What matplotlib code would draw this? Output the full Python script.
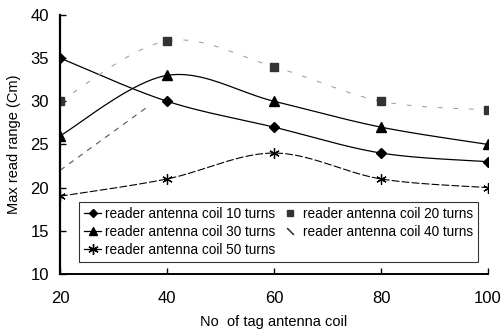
import numpy as np
import matplotlib
matplotlib.use("Agg")
import matplotlib.pyplot as plt
from matplotlib.lines import Line2D

plt.rcParams['font.family'] = ['Liberation Sans', 'DejaVu Sans']

x_turns = [20, 40, 60, 80, 100]
coil10 = [35, 30, 27, 24, 23]
coil20 = [30, 37, 34, 30, 29]
coil30 = [26, 33, 30, 27, 25]
coil50 = [19, 21, 24, 21, 20]
coil40_x = [20, 36]
coil40 = [22, 29.2]

labels = ["reader antenna coil 10 turns", "reader antenna coil 20 turns",
          "reader antenna coil 30 turns", "reader antenna coil 40 turns",
          "reader antenna coil 50 turns"]


def smooth(xs, ys, n=40):
    xs = np.asarray(xs, float); ys = np.asarray(ys, float)
    P = np.column_stack([xs, ys])
    P = np.vstack([P[0], P, P[-1]])
    out = []
    for i in range(1, len(P) - 2):
        p0, p1, p2, p3 = P[i-1], P[i], P[i+1], P[i+2]
        t = np.linspace(0, 1, n)[:, None]
        c1 = p1 + (p2 - p0) / 6
        c2 = p2 - (p3 - p1) / 6
        seg = ((1-t)**3)*p1 + 3*((1-t)**2)*t*c1 + 3*(1-t)*t**2*c2 + t**3*p2
        out.append(seg if i == 1 else seg[1:])
    s = np.vstack(out)
    return s[:, 0], s[:, 1]


fig = plt.figure(figsize=(5.01, 3.32), dpi=100)
ax = fig.add_axes([0.120, 0.175, 0.854, 0.780])

sx, sy = smooth(x_turns, coil10)
ax.plot(sx, sy, color='black', lw=0.9)
ax.plot(x_turns, coil10, ls='none', marker='D', ms=5, color='black')

sx, sy = smooth(x_turns, coil20)
ax.plot(sx, sy, color='#999999', lw=0.7, dashes=(5, 11))
ax.plot(x_turns, coil20, ls='none', marker='s', ms=5.5, color='#333333')

sx, sy = smooth(x_turns, coil30)
ax.plot(sx, sy, color='black', lw=0.9)
ax.plot(x_turns, coil30, ls='none', marker='^', ms=6.5, color='black')

ax.plot(coil40_x, coil40, color='#555555', lw=0.8, dashes=(5, 5))

sx, sy = smooth(x_turns, coil50)
ax.plot(sx, sy, color='black', lw=0.8, dashes=(7, 2))
ax.plot(x_turns, coil50, ls='none', marker=(6, 2, 0), ms=7.5, color='black', mew=0.9)

ax.set_xlim(20, 100)
ax.set_ylim(10, 40)
ax.set_xticks([20, 40, 60, 80, 100])
ax.set_yticks([10, 15, 20, 25, 30, 35, 40])
ax.tick_params(direction='in', length=4, width=1, labelsize=12)
ax.tick_params(axis='x', pad=12)
ax.tick_params(axis='y', pad=8)
for s in ['top', 'right']:
    ax.spines[s].set_visible(False)
ax.spines['left'].set_linewidth(1.6)
ax.spines['bottom'].set_linewidth(1.4)
ax.set_xlabel("No  of tag antenna coil", fontsize=10.5, labelpad=7)
ax.set_ylabel("Max read range (Cm)", fontsize=10.5, labelpad=7)

handles = [
    Line2D([], [], color='black', lw=0.9, marker='D', ms=4.5),
    Line2D([], [], color='black', lw=0.9, marker='^', ms=5.5),
    Line2D([], [], color='black', lw=0.9, marker=(6, 2, 0), ms=7.5),
    Line2D([], [], ls='none', color='#333333', marker='s', ms=5),
    Line2D([], [], ls='none', color='#333333', marker=(2, 2, 45), ms=7, mew=0.8),
]
hl = [labels[0], labels[2], labels[4], labels[1], labels[3]]
leg = ax.legend(handles, hl, ncol=2, loc='lower left', bbox_to_anchor=(0.044, 0.046),
                fontsize=9.8, frameon=True, fancybox=False, edgecolor='black',
                handlelength=1.3, handletextpad=0.3, columnspacing=0.4,
                borderpad=0.35, labelspacing=0.32, borderaxespad=0)
leg.get_frame().set_linewidth(0.8)

fig.savefig("out.png", dpi=100)
